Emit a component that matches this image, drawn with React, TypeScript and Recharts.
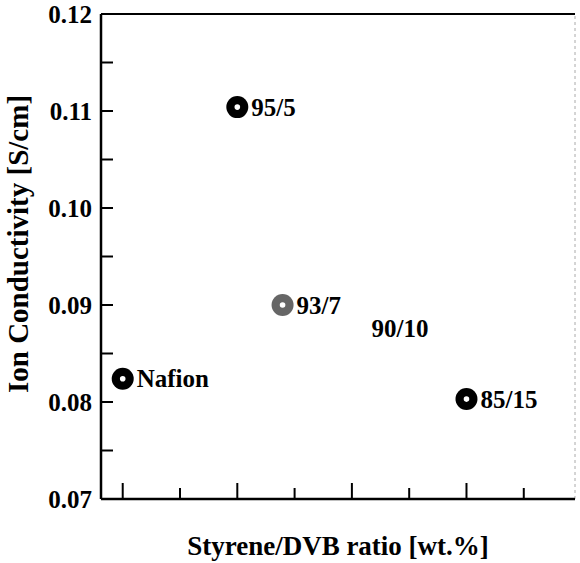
import React from 'react';
import { ScatterChart, Scatter, XAxis, YAxis, ReferenceLine } from 'recharts';

// samples, in plotting order
const sampleNames = ['Nafion', '95/5', '93/7', '90/10', '85/15'];
const ratioPosition = [0, 2, 2.79, 4.1, 6];
const ionConductivity = [0.0824, 0.1104, 0.09, 0.0876, 0.0803];

const yTicks = [0.07, 0.075, 0.08, 0.085, 0.09, 0.095, 0.1, 0.105, 0.11, 0.115, 0.12];
const yTickLabels = ['0.07', '', '0.08', '', '0.09', '', '0.10', '', '0.11', '', '0.12'];
const xTicks = [0, 1, 2, 3, 4, 5, 6, 7];

const xDomain: [number, number] = [-0.379, 7.894];
const yDomain: [number, number] = [0.07, 0.12];

const FONT = "'Liberation Serif', 'Times New Roman', serif";

// marker look per sample (null = label only, no marker visible in the original)
const markerColor: Record<string, string | null> = {
  '93/7': '#666',
  '90/10': null,
};

const data = sampleNames.map((name, i) => ({
  name,
  x: ratioPosition[i],
  y: ionConductivity[i],
}));

const SampleMarker = (props: any) => {
  const { cx, cy, payload } = props;
  const color = payload.name in markerColor ? markerColor[payload.name] : '#000';
  return (
    <g>
      {color && (
        <>
          <circle cx={cx} cy={cy} r={11} fill={color} />
          <circle cx={cx} cy={cy} r={2.8} fill="#fff" />
        </>
      )}
      <text
        x={cx + 14}
        y={cy}
        dy="0.35em"
        fontFamily={FONT}
        fontWeight="bold"
        fontSize={25}
        fill="#000"
      >
        {payload.name}
      </text>
    </g>
  );
};

const YTick = (props: any) => {
  const { x, y, index } = props;
  const label = yTickLabels[index];
  return (
    <g>
      <line x1={x} x2={x + 12} y1={y} y2={y} stroke="#000" strokeWidth={2} />
      {label && (
        <text
          x={x - 9}
          y={y}
          dy="0.35em"
          textAnchor="end"
          fontFamily={FONT}
          fontWeight="bold"
          fontSize={25}
          fill="#000"
        >
          {label}
        </text>
      )}
    </g>
  );
};

const XTick = (props: any) => {
  const { x, y, payload } = props;
  const len = payload.value % 2 === 0 ? 16 : 11;
  return <line x1={x} x2={x} y1={y} y2={y - len} stroke="#000" strokeWidth={2} />;
};

export default function App() {
  return (
    <div style={{ position: 'absolute', left: 0, top: 0, background: '#fff' }}>
      <ScatterChart
        width={580}
        height={563}
        margin={{ top: 14, right: 5, bottom: 0, left: 0 }}
      >
        <XAxis
          type="number"
          dataKey="x"
          domain={xDomain}
          ticks={xTicks}
          interval={0}
          allowDataOverflow
          height={64}
          tickSize={0}
          tickMargin={0}
          tickLine={false}
          tick={<XTick />}
          axisLine={{ stroke: '#000', strokeWidth: 2.5 }}
          label={{
            content: (p: any) => (
              <text
                x={p.viewBox.x + p.viewBox.width / 2}
                y={555}
                textAnchor="middle"
                fontFamily={FONT}
                fontWeight="bold"
                fontSize={27}
                fill="#000"
              >
                Styrene/DVB ratio [wt.%]
              </text>
            ),
          }}
        />
        <YAxis
          type="number"
          dataKey="y"
          domain={yDomain}
          ticks={yTicks}
          interval={0}
          allowDataOverflow
          width={101}
          tickSize={0}
          tickMargin={0}
          tickLine={false}
          tick={<YTick />}
          axisLine={{ stroke: '#000', strokeWidth: 2.5 }}
          label={{
            content: () => (
              <text
                x={0}
                y={0}
                transform="translate(28, 244) rotate(-90)"
                textAnchor="middle"
                fontFamily={FONT}
                fontWeight="bold"
                fontSize={29}
                fill="#000"
              >
                Ion Conductivity [S/cm]
              </text>
            ),
          }}
        />
        <ReferenceLine y={0.12} stroke="#000" strokeWidth={2} />
        <ReferenceLine x={xDomain[1]} stroke="#aaa" strokeWidth={1} strokeDasharray="3 3" />
        <Scatter data={data} shape={<SampleMarker />} isAnimationActive={false} />
      </ScatterChart>
    </div>
  );
}
